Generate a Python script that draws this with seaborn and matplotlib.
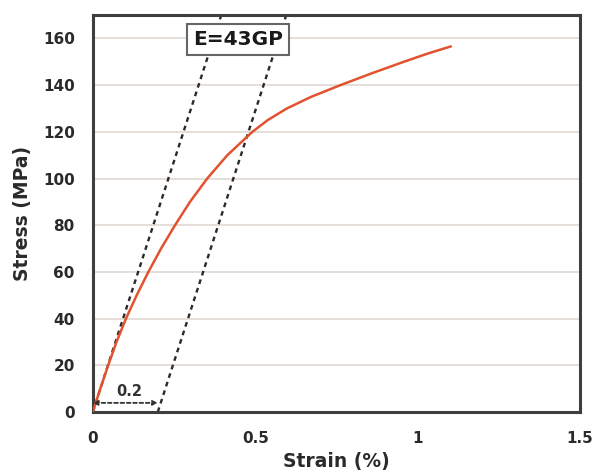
import matplotlib
matplotlib.use("Agg")
import matplotlib.pyplot as plt
import seaborn as sns
import pandas as pd

strain = [0, 0.023, 0.046, 0.073, 0.102, 0.135, 0.171, 0.210, 0.253, 0.299, 0.352, 0.414,
          0.491, 0.538, 0.597, 0.672, 0.762, 0.857, 0.957, 1.03, 1.102]
stress = [0, 10, 19.5, 30, 40, 50, 60, 70, 80, 90, 100, 110,
          120, 125, 130, 135, 140, 145, 150, 153.5, 156.6]
modulus_label = "E=43GP"
modulus = 430  # MPa per % strain
offset = 0.2
offset_label = "0.2"
yticks = [0, 20, 40, 60, 80, 100, 120, 140, 160]
xticks = [0, 0.5, 1, 1.5]
xticklabels = ["0", "0.5", "1", "1.5"]

sns.set_style("white")
plt.rcParams['font.family'] = ['DejaVu Sans']
plt.rcParams['font.weight'] = 'bold'

fig = plt.figure(figsize=(5.95, 4.73), dpi=100)
ax = fig.add_axes([0.156, 0.129, 0.819, 0.839])

ymax = 170
df = pd.DataFrame({"strain": strain, "stress": stress})
ax.set_xlim(0, 1.5)
ax.set_ylim(0, ymax)
for y in yticks[1:]:
    ax.axhline(y, color="#e4dbd4", lw=1.3, zorder=0)

# elastic lines
e_top = ymax / modulus
dash = (0, (2.0, 1.8))
ax.plot([0, e_top], [0, ymax], ls=dash, color="#2a2a2a", lw=1.7, zorder=2)
ax.plot([offset, offset + e_top], [0, ymax], ls=dash, color="#2a2a2a", lw=1.7, zorder=2)

sns.lineplot(data=df, x="strain", y="stress", ax=ax, color="#e2522f", lw=1.8, zorder=3,
             estimator=None, sort=False)

# offset arrow
ax.annotate("", xy=(0, 3.9), xytext=(offset, 3.9),
            arrowprops=dict(arrowstyle="<|-|>", ls=(0, (2, 1.5)), color="#333333", lw=1.3,
                            mutation_scale=7, shrinkA=0, shrinkB=0), zorder=4)
ax.text(0.112, 8.6, offset_label, ha="center", va="center", fontsize=10.5, fontweight="bold",
        color="#333333")

ax.text(0.447, 159.6, modulus_label, ha="center", va="center", fontsize=14.5, fontweight="bold",
        color="#1a1a1a", zorder=5,
        bbox=dict(boxstyle="square,pad=0.3", fc="white", ec="#666666", lw=1.5))

ax.set_xticks(xticks)
ax.set_xticklabels(xticklabels)
ax.set_yticks(yticks)
ax.tick_params(axis="both", length=0, labelsize=11, colors="#2a2a2a")
ax.tick_params(axis="x", pad=14)
ax.tick_params(axis="y", pad=13)
for lab in ax.get_xticklabels() + ax.get_yticklabels():
    lab.set_fontweight("bold")

for s in ax.spines.values():
    s.set_visible(True)
    s.set_color("#3e3e3e")
    s.set_linewidth(2.2)

ax.set_xlabel("Strain (%)", fontsize=13.5, fontweight="bold", color="#2a2a2a", labelpad=4)
ax.set_ylabel("Stress (MPa)", fontsize=13.5, fontweight="bold", color="#2a2a2a", labelpad=8)
ax.grid(False)

fig.savefig("out.png", dpi=100)
